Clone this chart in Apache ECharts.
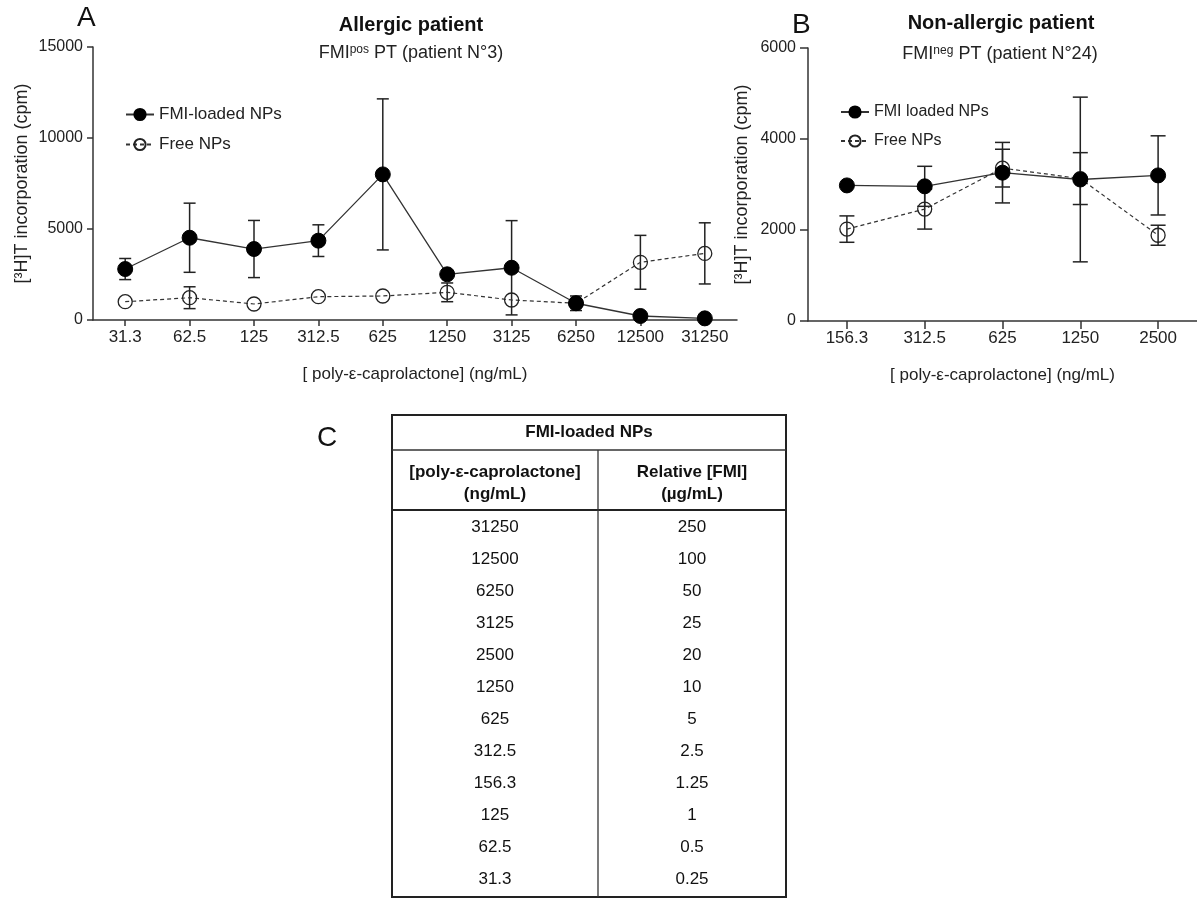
<!DOCTYPE html>
<html>
<head>
<meta charset="utf-8">
<script src="https://cdn.jsdelivr.net/npm/echarts@6/dist/echarts.min.js"></script>
<style>html,body{margin:0;padding:0;background:#fff}#c{width:1197px;height:899px}</style>
</head>
<body>
<div id="c"></div>
<script>
// ---- Panel A data (Allergic patient) ----
const catsA = ['31.3','62.5','125','312.5','625','1250','3125','6250','12500','31250'];
const fmiA = [2800, 4520, 3900, 4360, 8000, 2510, 2870, 920, 220, 90];
const fmiAErr = [580, 1900, 1570, 870, 4150, 0, 2590, 400, 0, 0];
const freeA = [1005, 1225, 880, 1280, 1320, 1520, 1100, 920, 3170, 3660];
const freeAErr = [0, 600, 0, 0, 0, 515, 0, 0, 1480, 1680];
// ---- Panel B data (Non-allergic patient) ----
const catsB = ['156.3','312.5','625','1250','2500'];
const fmiB = [2980, 2960, 3260, 3110, 3200];
const fmiBErr = [0, 440, 665, 1810, 870];
const freeB = [2020, 2460, 3360, 3130, 1885];
const freeBErr = [290, 440, 415, 570, 220];
// ---- Table C ----
const tableHeader = 'FMI-loaded NPs';
const tableColHeads = [['[poly-ε-caprolactone]','(ng/mL)'], ['Relative [FMI]','(µg/mL)']];
const tablePCL = ['31250','12500','6250','3125','2500','1250','625','312.5','156.3','125','62.5','31.3'];
const tableFMI = ['250','100','50','25','20','10','5','2.5','1.25','1','0.5','0.25'];

const FONT = '"Liberation Sans", Arial, sans-serif';
const INK = '#222';

function errData(vals, errs){
  return vals.map((v,i)=>[i, v-errs[i], v+errs[i]]);
}
function makeErr(capHalf){
  return function(params, api){
    const x = api.value(0), lo = api.value(1), hi = api.value(2);
    if (!(hi - lo > 0)) return null;
    const t = api.coord([x, hi]), b = api.coord([x, lo]);
    const st = {stroke: INK, lineWidth: 1.5};
    return {type:'group', children:[
      {type:'line', shape:{x1:t[0],y1:t[1],x2:b[0],y2:b[1]}, style:st},
      {type:'line', shape:{x1:t[0]-capHalf,y1:t[1],x2:t[0]+capHalf,y2:t[1]}, style:st},
      {type:'line', shape:{x1:b[0]-capHalf,y1:b[1],x2:b[0]+capHalf,y2:b[1]}, style:st}
    ]};
  };
}

const solidLine = {color:'#333', width:1.3, type:'solid'};
const dashLine = {color:'#333', width:1.2, type:[4,3]};
const filledStyle = {color:'#000', borderColor:'#000', borderWidth:1};
const openStyle = {color:'rgba(255,255,255,0)', borderColor:'#222', borderWidth:1.3};

function yAxisCfg(grid, max, interval, tickLen, margin, gap){
  return {
    gridIndex: grid, type:'value', min:0, max:max, interval:interval,
    name:'[³H]T incorporation (cpm)', nameLocation:'middle', nameGap:gap, nameMoveOverlap:false,
    nameTextStyle:{fontFamily:FONT, fontSize:18, color:INK},
    axisLine:{show:true, lineStyle:{color:'#333', width:1.5}},
    axisTick:{show:true, length:tickLen, lineStyle:{color:'#333', width:1.5}},
    axisLabel:{fontFamily:FONT, fontSize:16, color:INK, margin:margin, formatter:(v)=>String(v)},
    splitLine:{show:false}
  };
}
function xAxisCfg(grid, cats, tickLen){
  return {
    gridIndex: grid, type:'category', data:cats, boundaryGap:true,
    name:'[ poly-ε-caprolactone] (ng/mL)', nameLocation:'middle', nameGap:46, nameMoveOverlap:false,
    nameTextStyle:{fontFamily:FONT, fontSize:17, color:INK},
    axisLine:{show:true, lineStyle:{color:'#333', width:1.5}},
    axisTick:{show:true, alignWithLabel:true, length:tickLen, lineStyle:{color:'#333', width:1.5}},
    axisLabel:{fontFamily:FONT, fontSize:17, color:INK, margin:9, interval:0},
    splitLine:{show:false}
  };
}

// ---- Table graphics ----
const T = {left:392, mid:598, right:786, top:415, h1:450, h2:510, bottom:897, row0:527, pitch:32.06};
const tableEls = [];
tableEls.push({type:'rect', shape:{x:T.left, y:T.top, width:T.right-T.left, height:T.bottom-T.top}, style:{fill:'none', stroke:'#222', lineWidth:2}});
tableEls.push({type:'line', shape:{x1:T.left,y1:T.h1,x2:T.right,y2:T.h1}, style:{stroke:'#333', lineWidth:1.3}});
tableEls.push({type:'line', shape:{x1:T.left,y1:T.h2,x2:T.right,y2:T.h2}, style:{stroke:'#222', lineWidth:2}});
tableEls.push({type:'line', shape:{x1:T.mid,y1:T.h1,x2:T.mid,y2:T.bottom}, style:{stroke:'#333', lineWidth:1.3}});
tableEls.push({type:'text', x:(T.left+T.right)/2, y:(T.top+T.h1)/2, style:{text:tableHeader, font:'bold 17px '+FONT, fill:'#111', align:'center', verticalAlign:'middle'}});
const colCx = [(T.left+T.mid)/2, (T.mid+T.right)/2];
tableColHeads.forEach((lines,ci)=>{
  lines.forEach((s,li)=>{
    tableEls.push({type:'text', x:colCx[ci], y:472+li*22, style:{text:s, font:'bold 17px '+FONT, fill:'#111', align:'center', verticalAlign:'middle'}});
  });
});
tablePCL.forEach((s,i)=>{
  tableEls.push({type:'text', x:colCx[0], y:T.row0+i*T.pitch, style:{text:s, font:'17px '+FONT, fill:'#111', align:'center', verticalAlign:'middle'}});
  tableEls.push({type:'text', x:colCx[1], y:T.row0+i*T.pitch, style:{text:tableFMI[i], font:'17px '+FONT, fill:'#111', align:'center', verticalAlign:'middle'}});
});

function richTitle(x, y, base, sup, rest){
  return {type:'text', x:x, y:y, style:{
    text:'{n|'+base+'}{s|'+sup+'}{n|'+rest+'}', align:'center', verticalAlign:'middle',
    rich:{ n:{fontFamily:FONT, fontSize:18, fill:INK, verticalAlign:'bottom'},
           s:{fontFamily:FONT, fontSize:12, fill:INK, verticalAlign:'top'} }
  }};
}

const chart = echarts.init(document.getElementById('c'), null, {renderer:'canvas'});
chart.setOption({
  animation:false,
  backgroundColor:'#fff',
  grid:[
    {left:93, top:47, width:644, height:273, outerBoundsMode:'none', containLabel:false},
    {left:808, top:48, width:389, height:273, outerBoundsMode:'none', containLabel:false}
  ],
  xAxis:[ xAxisCfg(0, catsA, 6), xAxisCfg(1, catsB, 8) ],
  yAxis:[ yAxisCfg(0, 15000, 5000, 6, 10, 62), yAxisCfg(1, 6000, 2000, 8, 12, 57) ],
  legend:[
    {left:120, top:101, orient:'vertical', itemWidth:28, itemHeight:14, itemGap:13,
     data:['FMI-loaded NPs','Free NPs'], textStyle:{fontFamily:FONT, fontSize:17, color:INK}, selectedMode:false},
    {left:835, top:99, orient:'vertical', itemWidth:28, itemHeight:14, itemGap:13,
     data:['FMI loaded NPs','Free NPs'], textStyle:{fontFamily:FONT, fontSize:16, color:INK}, selectedMode:false}
  ],
  series:[
    {type:'custom', xAxisIndex:0, yAxisIndex:0, renderItem:makeErr(6), encode:{x:0,y:[1,2]}, data:errData(fmiA,fmiAErr), z:1, silent:true},
    {type:'custom', xAxisIndex:0, yAxisIndex:0, renderItem:makeErr(6), encode:{x:0,y:[1,2]}, data:errData(freeA,freeAErr), z:1, silent:true},
    {name:'FMI-loaded NPs', type:'line', xAxisIndex:0, yAxisIndex:0, data:fmiA, symbol:'circle', symbolSize:15, lineStyle:solidLine, itemStyle:filledStyle, z:3},
    {name:'Free NPs', type:'line', xAxisIndex:0, yAxisIndex:0, data:freeA, symbol:'circle', symbolSize:14, lineStyle:dashLine, itemStyle:openStyle, z:2},
    {type:'custom', xAxisIndex:1, yAxisIndex:1, renderItem:makeErr(7.5), encode:{x:0,y:[1,2]}, data:errData(fmiB,fmiBErr), z:1, silent:true},
    {type:'custom', xAxisIndex:1, yAxisIndex:1, renderItem:makeErr(7.5), encode:{x:0,y:[1,2]}, data:errData(freeB,freeBErr), z:1, silent:true},
    {name:'FMI loaded NPs', type:'line', xAxisIndex:1, yAxisIndex:1, data:fmiB, symbol:'circle', symbolSize:15, lineStyle:solidLine, itemStyle:filledStyle, z:3},
    {name:'Free NPs', type:'line', xAxisIndex:1, yAxisIndex:1, data:freeB, symbol:'circle', symbolSize:14, lineStyle:dashLine, itemStyle:openStyle, z:2}
  ],
  graphic:[
    {type:'text', x:77, y:18, style:{text:'A', font:'28px '+FONT, fill:'#111', align:'left', verticalAlign:'middle'}},
    {type:'text', x:792, y:25, style:{text:'B', font:'28px '+FONT, fill:'#111', align:'left', verticalAlign:'middle'}},
    {type:'text', x:317, y:438, style:{text:'C', font:'28px '+FONT, fill:'#111', align:'left', verticalAlign:'middle'}},
    {type:'text', x:411, y:25, style:{text:'Allergic patient', font:'bold 20px '+FONT, fill:'#111', align:'center', verticalAlign:'middle'}},
    richTitle(411, 53, 'FMI', 'pos', ' PT (patient N°3)'),
    {type:'text', x:1001, y:23, style:{text:'Non-allergic patient', font:'bold 20px '+FONT, fill:'#111', align:'center', verticalAlign:'middle'}},
    richTitle(1000, 54, 'FMI', 'neg', ' PT (patient N°24)'),
    {type:'group', children:tableEls}
  ]
});
</script>
</body>
</html>
